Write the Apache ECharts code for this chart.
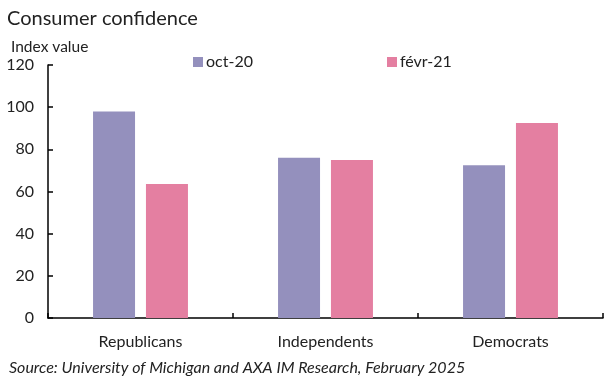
<!DOCTYPE html>
<html><head><meta charset="utf-8">
<script src="https://cdn.jsdelivr.net/npm/echarts@6/dist/echarts.min.js"></script>
<style>html,body{margin:0;padding:0;background:#fff}#c{width:615px;height:379px}</style>
</head><body><div id="c"></div>
<script>
const categories = ["Republicans", "Independents", "Democrats"];
const oct20 = [98, 76, 72.5];
const fevr21 = [63.5, 75, 92.5];
const seriesNames = ["oct-20", "févr-21"];
const yTicks = [0, 20, 40, 60, 80, 100, 120];
const FONT = "Lato";
const chart = echarts.init(document.getElementById('c'), null, {renderer: 'canvas'});
chart.setOption({
  animation: false,
  backgroundColor: '#fff',
  textStyle: {fontFamily: FONT},
  title: [
    {text: 'Consumer confidence', left: 2, top: 4, textStyle: {fontFamily: FONT, fontSize: 20, fontWeight: 'normal', color: '#222'}},
    {text: 'Index value', left: 6, top: 34, textStyle: {fontFamily: FONT, fontSize: 15.5, fontWeight: 'normal', color: '#222'}},
    {text: 'Source: University of Michigan and AXA IM Research, February 2025', left: 4, top: 355, textStyle: {fontFamily: FONT, fontSize: 16, fontStyle: 'italic', fontWeight: 'normal', color: '#222'}}
  ],
  legend: [
    {data: [seriesNames[0]], left: 188, top: 49, itemWidth: 10, itemHeight: 10, icon: 'rect', itemGap: 4,
     textStyle: {fontFamily: FONT, fontSize: 16, color: '#222', padding: [0,0,0,-2]}},
    {data: [seriesNames[1]], left: 382, top: 49, itemWidth: 10, itemHeight: 10, icon: 'rect', itemGap: 4,
     textStyle: {fontFamily: FONT, fontSize: 16, color: '#222', padding: [0,0,0,-2]}}
  ],
  grid: {left: 48, right: 12, top: 65, bottom: 61, containLabel: false},
  xAxis: {
    type: 'category', data: categories,
    axisLine: {lineStyle: {color: '#000', width: 1.5}},
    axisTick: {show: true, inside: true, length: 5, lineStyle: {color: '#000', width: 1.5}},
    axisLabel: {fontFamily: FONT, fontSize: 16, color: '#222', margin: 16}
  },
  yAxis: {
    type: 'value', min: yTicks[0], max: yTicks[yTicks.length-1], interval: 20,
    axisLine: {show: true, lineStyle: {color: '#000', width: 1.5}},
    axisTick: {show: true, inside: true, length: 5, lineStyle: {color: '#000', width: 1.5}},
    splitLine: {show: false},
    axisLabel: {fontFamily: FONT, fontSize: 16, color: '#222', margin: 14}
  },
  series: [
    {name: seriesNames[0], type: 'bar', data: oct20, barWidth: 42, barGap: '26%', itemStyle: {color: '#9490BD'}},
    {name: seriesNames[1], type: 'bar', data: fevr21, barWidth: 42, barGap: '26%', itemStyle: {color: '#E47FA1'}}
  ]
});
</script></body></html>
